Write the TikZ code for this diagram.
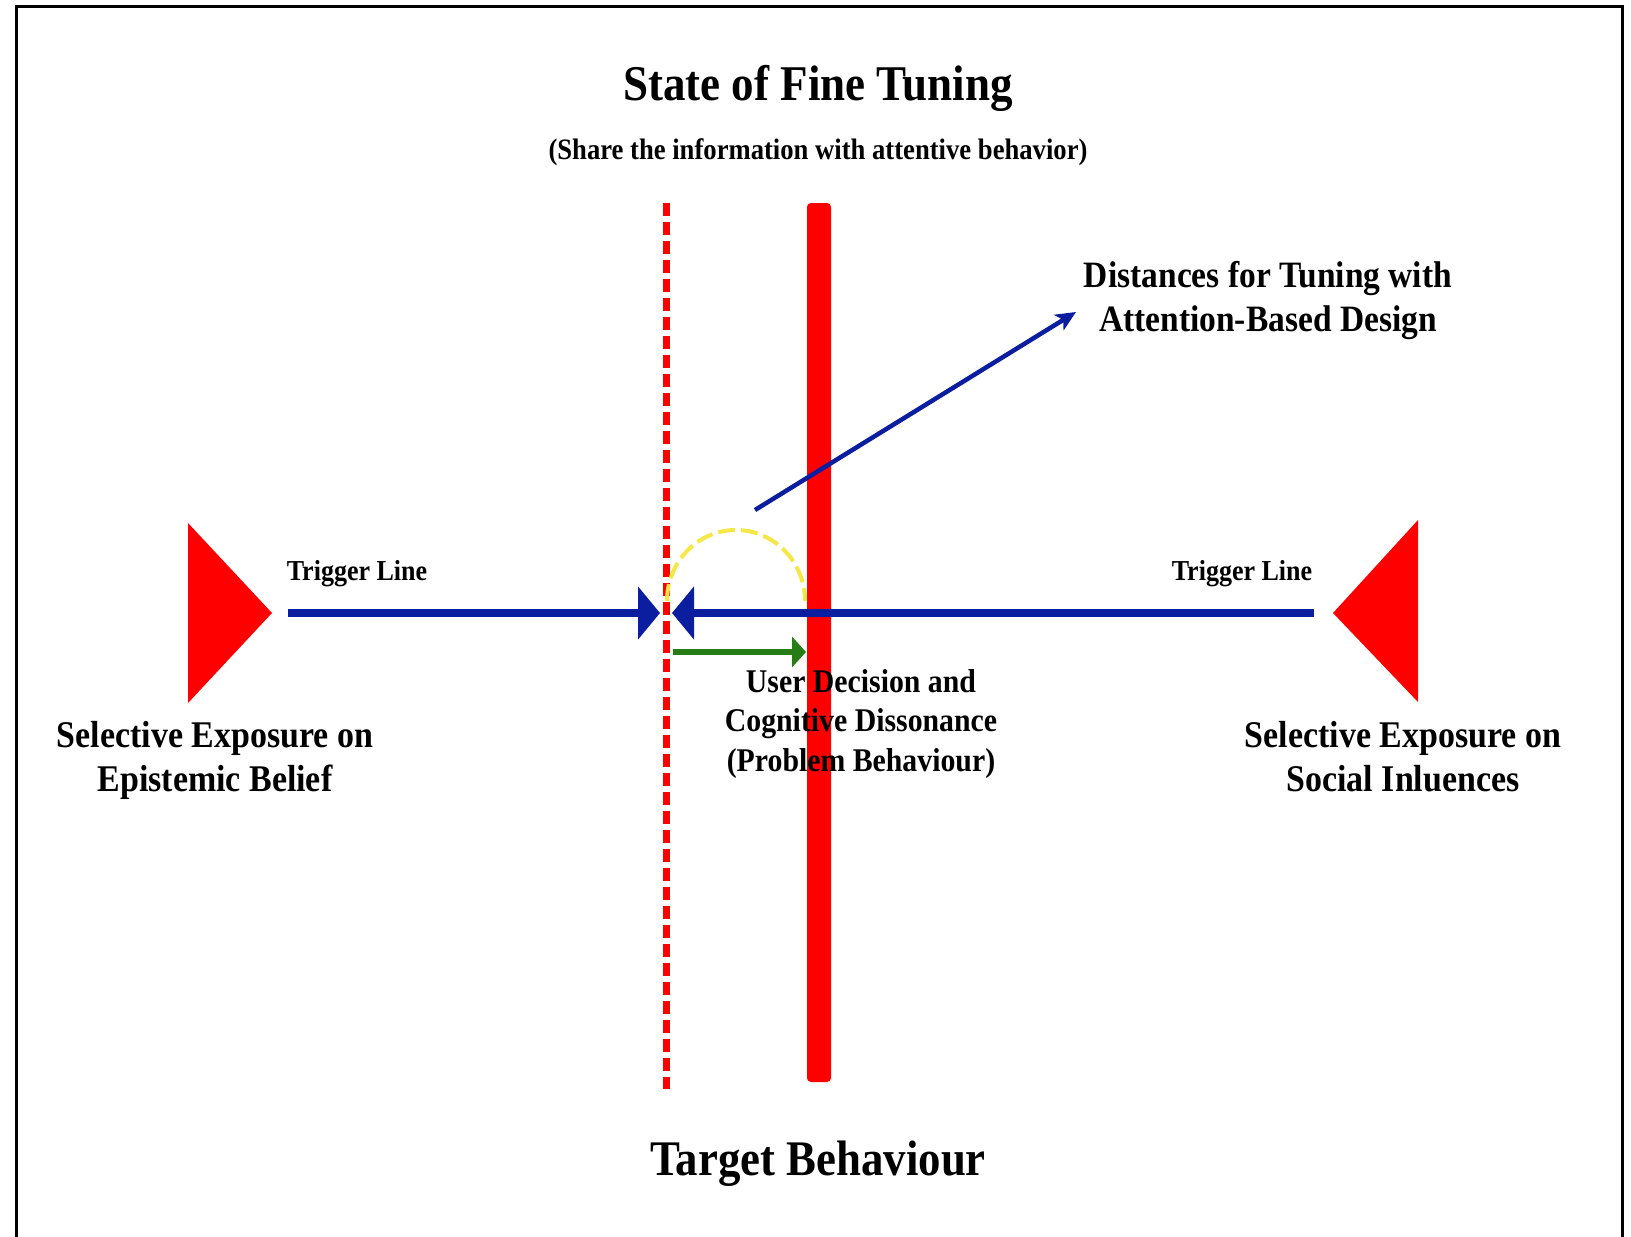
\documentclass[tikz,border=0pt]{standalone}
\usepackage{fontspec}
\setmainfont[FakeStretch=0.9]{Liberation Serif}
\usetikzlibrary{arrows.meta}
\definecolor{navy}{RGB}{12,30,160}
\definecolor{grn}{RGB}{38,125,22}
\definecolor{ylw}{RGB}{245,232,70}
\tikzset{
  lbl/.style={inner sep=0pt, font=\bfseries, align=center, anchor=base},
  trig/.style={navy, line width=8pt, -{Triangle[length=22pt,width=52pt]}},
}
\begin{document}
\begin{tikzpicture}[x=1pt,y=-1pt]
\useasboundingbox (0,0) rectangle (1631,1237);
\fill[white] (0,0) rectangle (1631,1237);
% frame
\draw[line width=3pt] (16,1240) -- (16,6) -- (1622,6) -- (1622,1240);
% titles
\node[lbl, font=\bfseries\fontsize{50}{55}\selectfont] (title) at (818,100) {State of Fine Tuning};
\node[lbl, font=\bfseries\fontsize{29.6}{33}\selectfont] (sub) at (818,159) {(Share the information with attentive behavior)};
\node[lbl, font=\bfseries\fontsize{49.8}{55}\selectfont] (target) at (818,1175) {Target Behaviour};
% vertical lines
\draw[red, line width=7pt, dash pattern=on 13pt off 6pt] (666,203) coordinate (dtop) -- (666,1089) coordinate (dbot);
\fill[red, rounded corners=4pt] (807,203) rectangle (831,1082);
\coordinate (bar) at (819,640);
% triangles
\fill[red] (188,523) -- (188,703) -- (272,613) -- cycle;
\fill[red] (1418,520) -- (1418,702) -- (1333,613) -- cycle;
% trigger arrows
\coordinate (ls) at (288,613);
\coordinate (lt) at (660,613);
\coordinate (rs) at (1314,613);
\coordinate (rt) at (672,613);
\draw[trig] (ls) -- (lt);
\draw[trig] (rs) -- (rt);
% yellow arc
\draw[ylw, line width=4pt, dash pattern=on 17pt off 6pt] (667,601) arc[start angle=180, end angle=360, x radius=69, y radius=71];
% green arrow
\coordinate (gs) at (673,652);
\coordinate (gt) at (806,652);
\draw[grn, line width=5.5pt, -{Triangle[length=14pt,width=30pt]}] (gs) -- (gt);
% diagonal arrow
\coordinate (ds) at (755,510);
\coordinate (dt) at (1076,312);
\draw[navy, line width=4.5pt, -{Stealth[length=20pt,width=18pt,inset=5pt]}] (ds) -- (dt);
% labels
\node[lbl, font=\bfseries\fontsize{28.9}{32}\selectfont] (tl) at (357,580) {Trigger Line};
\node[lbl, font=\bfseries\fontsize{28.9}{32}\selectfont] (tr) at (1242,580) {Trigger Line};
\node[lbl, font=\bfseries\fontsize{37.2}{44.5}\selectfont] (dist) at (1268,331.5) {Distances for Tuning with\\Attention-Based Design};
\node[lbl, font=\bfseries\fontsize{33.1}{39.5}\selectfont] (user) at (861,771) {User Decision and\\Cognitive Dissonance\\(Problem Behaviour)};
\node[lbl, font=\bfseries\fontsize{37.7}{44}\selectfont] (sel1) at (215,791) {Selective Exposure on\\Epistemic Belief};
\node[lbl, font=\bfseries\fontsize{37.7}{44}\selectfont] (sel2) at (1403,791) {Selective Exposure on\\Social Inluences};
\end{tikzpicture}
\end{document}
